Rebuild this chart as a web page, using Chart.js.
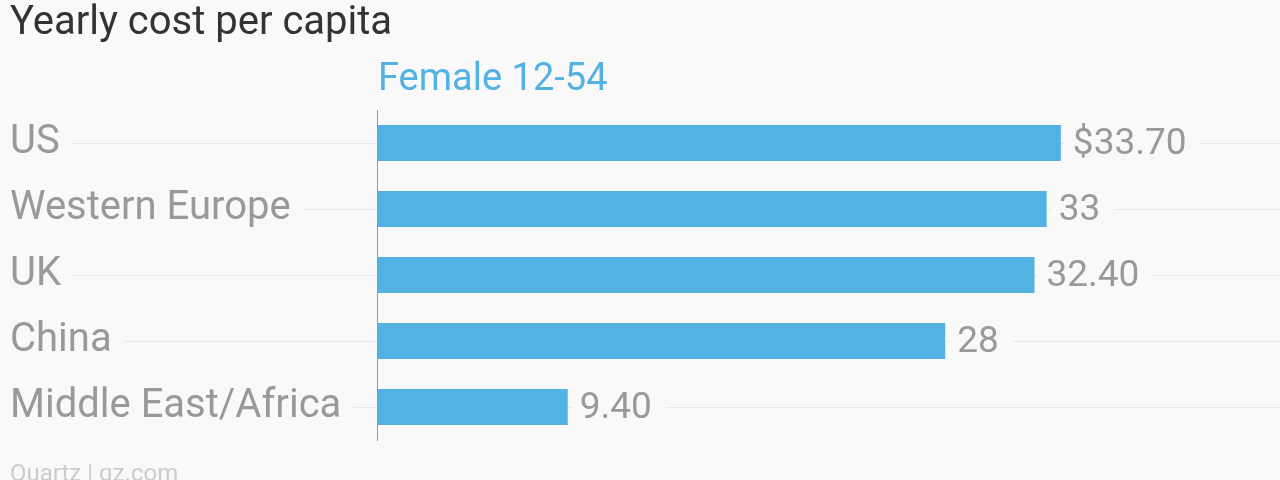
<!DOCTYPE html>
<html>
<head>
<meta charset="utf-8">
<script src="https://cdn.jsdelivr.net/npm/chart.js@4"></script>
<style>
  html, body { margin: 0; padding: 0; background: #f9f9f9; }
  #wrap { position: relative; width: 1280px; height: 480px; overflow: hidden; }
</style>
</head>
<body>
<div id="wrap"><canvas id="myBarChart" width="1280" height="480"></canvas></div>
<script>
const FONT = 'Roboto';
let labels = ['US', 'Western Europe', 'UK', 'China', 'Middle East/Africa'];
let values = [33.7, 33, 32.4, 28, 9.4];
let valueText = ['$33.70', '33', '32.40', '28', '9.40'];
let seriesName = 'Female 12-54';
let titleText = 'Yearly cost per capita';
let sourceText = 'Quartz | qz.com';

const bg = '#f9f9f9';
const barColor = '#52b2e4';
const grey = '#999999';
const gridColor = '#e8e8e8';

// text, labels and the bits of grid line left of the axis
const extras = {
    id: 'extras',
    beforeDraw(chart) {
        const ctx = chart.ctx;
        ctx.save();
        ctx.fillStyle = bg;
        ctx.fillRect(0, 0, chart.width, chart.height);
        ctx.restore();
    },
    beforeDatasetsDraw(chart) {
        const ctx = chart.ctx;
        const y = chart.scales.y;
        ctx.save();
        ctx.font = '40px ' + FONT;
        ctx.strokeStyle = gridColor;
        ctx.lineWidth = 1;
        labels.forEach((l, i) => {
            const w = ctx.measureText(l).width;
            const py = Math.round(y.getPixelForTick(i)) + 0.5;
            ctx.beginPath();
            ctx.moveTo(10 + w + 12, py);
            ctx.lineTo(chart.chartArea.left, py);
            ctx.stroke();
        });
        ctx.restore();
    },
    afterDatasetsDraw(chart) {
        const ctx = chart.ctx;
        const meta = chart.getDatasetMeta(0);
        ctx.save();
        ctx.font = '37px ' + FONT;
        ctx.textBaseline = 'middle';
        meta.data.forEach((bar, i) => {
            const t = valueText[i];
            const w = ctx.measureText(t).width;
            ctx.fillStyle = bg;
            ctx.fillRect(bar.x + 4, bar.y - 20, w + 22, 40);
            ctx.fillStyle = grey;
            ctx.fillText(t, bar.x + 12, bar.y + 2);
        });
        ctx.fillStyle = '#333333';
        ctx.font = '40px ' + FONT;
        ctx.textBaseline = 'alphabetic';
        ctx.fillText(titleText, 10, 34);
        ctx.fillStyle = barColor;
        ctx.font = '38px ' + FONT;
        ctx.fillText(seriesName, chart.chartArea.left + 1, 90);
        ctx.fillStyle = '#cccccc';
        ctx.font = '24px ' + FONT;
        ctx.fillText(sourceText, 10, 481);
        ctx.restore();
    }
};

let myChart = document.getElementById('myBarChart').getContext('2d');
let chart = new Chart(myChart, {
    type: 'bar',
    data: {
        labels: labels,
        datasets: [{
            label: seriesName,
            data: values,
            backgroundColor: barColor,
            categoryPercentage: 1,
            barPercentage: 0.545
        }]
    },
    options: {
        indexAxis: 'y',
        responsive: false,
        animation: false,
        layout: { padding: { top: 110, bottom: 40, left: 10, right: 0 } },
        plugins: {
            legend: { display: false },
            tooltip: { enabled: false }
        },
        scales: {
            x: {
                min: 0,
                max: 44.5,
                display: false
            },
            y: {
                afterFit(scale) { scale.width = 367; },
                grid: { color: gridColor, offset: false, drawTicks: false },
                border: { display: true, color: grey, width: 1 },
                ticks: {
                    crossAlign: 'far',
                    color: grey,
                    font: { family: FONT, size: 40 }
                }
            }
        }
    },
    plugins: [extras]
});
</script>
</body>
</html>
